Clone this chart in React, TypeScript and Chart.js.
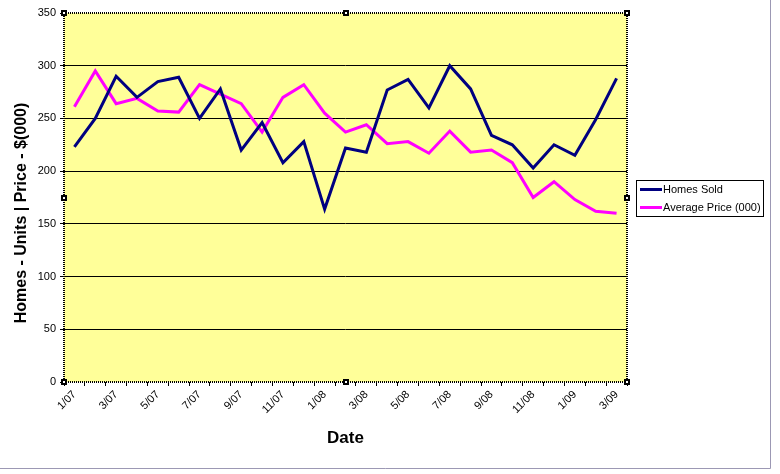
import React, { useEffect, useRef } from "react";
import { Chart, registerables } from "chart.js";

Chart.register(...registerables);

const months: string[] = [
  "1/07", "2/07", "3/07", "4/07", "5/07", "6/07", "7/07", "8/07", "9/07", "10/07", "11/07", "12/07",
  "1/08", "2/08", "3/08", "4/08", "5/08", "6/08", "7/08", "8/08", "9/08", "10/08", "11/08", "12/08",
  "1/09", "2/09", "3/09",
];

const homesSold: number[] = [
  223, 250, 290, 270, 285, 289, 250, 278, 220, 246, 208, 228,
  164, 222, 218, 277, 287, 260, 300, 278, 234, 225, 203, 225,
  215, 249, 288,
];

const avgPrice: number[] = [
  261, 295, 264, 269, 257, 256, 282, 273, 264, 237, 270, 282,
  255, 237, 244, 226, 228, 217, 238, 218, 220, 208, 175, 190,
  173, 162, 160,
];

const seriesNames: string[] = ["Homes Sold", "Average Price (000)"];
const seriesColors: string[] = ["#000080", "#FF00FF"];
const yTitle = "Homes - Units | Price - $(000)";
const xTitle = "Date";

const FONT = "'Liberation Sans', Arial, sans-serif";

const decorPlugin = {
  id: "decor",
  beforeDraw(chart: any) {
    const { ctx, chartArea: a } = chart;
    ctx.save();
    ctx.fillStyle = "#FFFFFF";
    ctx.fillRect(0, 0, chart.width, chart.height);
    ctx.fillStyle = "#FFFF99";
    ctx.fillRect(a.left, a.top, a.right - a.left, a.bottom - a.top);
    ctx.restore();
  },
  afterDraw(chart: any) {
    const { ctx, chartArea: a } = chart;
    ctx.save();
    // dotted plot border
    ctx.strokeStyle = "#000000";
    ctx.lineWidth = 2;
    ctx.setLineDash([1, 1]);
    ctx.strokeRect(a.left, a.top, a.right - a.left, a.bottom - a.top);
    ctx.setLineDash([]);
    // handles
    const mx = (a.left + a.right) / 2;
    const my = (a.top + a.bottom) / 2;
    const pts = [
      [a.left, a.top], [mx, a.top], [a.right, a.top],
      [a.left, my], [a.right, my],
      [a.left, a.bottom], [mx, a.bottom], [a.right, a.bottom],
    ];
    for (const [px, py] of pts) {
      ctx.fillStyle = "#000000";
      ctx.fillRect(Math.round(px) - 3, Math.round(py) - 3, 6, 6);
      ctx.fillStyle = "#FFFFFF";
      ctx.fillRect(Math.round(px) - 1, Math.round(py) - 1, 2, 2);
    }
    // outer chart border (right and bottom)
    ctx.strokeStyle = "#9C98B4";
    ctx.lineWidth = 1;
    ctx.beginPath();
    ctx.moveTo(770.5, 0);
    ctx.lineTo(770.5, 468.5);
    ctx.lineTo(0, 468.5);
    ctx.stroke();
    // y title
    ctx.fillStyle = "#000000";
    ctx.font = `bold 16px ${FONT}`;
    ctx.textAlign = "center";
    ctx.textBaseline = "middle";
    ctx.save();
    ctx.translate(22, 213);
    ctx.rotate(-Math.PI / 2);
    ctx.fillText(yTitle, 0, 0);
    ctx.restore();
    // x title
    ctx.font = `bold 17px ${FONT}`;
    ctx.fillText(xTitle, mx, 438);
    // legend
    const lx = 636, ly = 180, lw = 127, lh = 36;
    ctx.fillStyle = "#FFFFFF";
    ctx.fillRect(lx, ly, lw, lh);
    ctx.strokeStyle = "#000000";
    ctx.lineWidth = 1;
    ctx.strokeRect(lx + 0.5, ly + 0.5, lw, lh);
    ctx.font = `11px ${FONT}`;
    ctx.textAlign = "left";
    chart.data.datasets.forEach((ds: any, i: number) => {
      const yy = ly + 9.5 + i * 18;
      ctx.strokeStyle = ds.borderColor;
      ctx.lineWidth = 3;
      ctx.beginPath();
      ctx.moveTo(lx + 4, yy);
      ctx.lineTo(lx + 26, yy);
      ctx.stroke();
      ctx.fillStyle = "#000000";
      ctx.fillText(ds.label, lx + 27, yy + 0.5);
    });
    ctx.restore();
  },
};

export default function App() {
  const ref = useRef<HTMLCanvasElement | null>(null);

  useEffect(() => {
    document.body.style.margin = "0";
    const canvas = ref.current;
    if (!canvas) return;
    const chart = new Chart(canvas, {
      type: "line",
      data: {
        labels: months,
        datasets: [
          {
            label: seriesNames[0],
            data: homesSold,
            borderColor: seriesColors[0],
            backgroundColor: seriesColors[0],
            borderWidth: 3,
            pointRadius: 0,
            tension: 0,
          },
          {
            label: seriesNames[1],
            data: avgPrice,
            borderColor: seriesColors[1],
            backgroundColor: seriesColors[1],
            borderWidth: 3,
            pointRadius: 0,
            tension: 0,
          },
        ],
      },
      options: {
        responsive: false,
        animation: false,
        devicePixelRatio: 1,
        layout: { padding: { left: 0, top: 13, right: 153, bottom: 0 } },
        plugins: {
          legend: { display: false },
          tooltip: { enabled: false },
          title: { display: false },
        },
        scales: {
          x: {
            type: "category",
            offset: true,
            border: { display: false },
            grid: {
              offset: true,
              drawOnChartArea: false,
              drawTicks: true,
              tickLength: 4,
              tickColor: "#000000",
              color: "#000000",
            },
            ticks: {
              autoSkip: false,
              minRotation: 45,
              maxRotation: 45,
              padding: 2,
              color: "#000000",
              font: { family: FONT, size: 11 },
              callback: (_v: any, i: number) => (i % 2 === 0 ? months[i] : ""),
            },
            afterFit: (scale: any) => {
              scale.height = 92;
            },
          },
          y: {
            min: 0,
            max: 350,
            border: { display: false },
            grid: {
              color: (c: any) =>
                c.tick && (c.tick.value === 0 || c.tick.value === 350) ? "rgba(0,0,0,0)" : "#000000",
              tickColor: "#000000",
              tickLength: 4,
              lineWidth: 1,
            },
            ticks: {
              stepSize: 50,
              padding: 4,
              color: "#000000",
              font: { family: FONT, size: 11 },
            },
            afterFit: (scale: any) => {
              scale.width = 64;
            },
          },
        },
      },
      plugins: [decorPlugin],
    });
    return () => chart.destroy();
  }, []);

  return (
    <div style={{ position: "fixed", left: 0, top: 0, width: 780, height: 474 }}>
      <canvas ref={ref} width={780} height={474} style={{ display: "block" }} />
    </div>
  );
}
